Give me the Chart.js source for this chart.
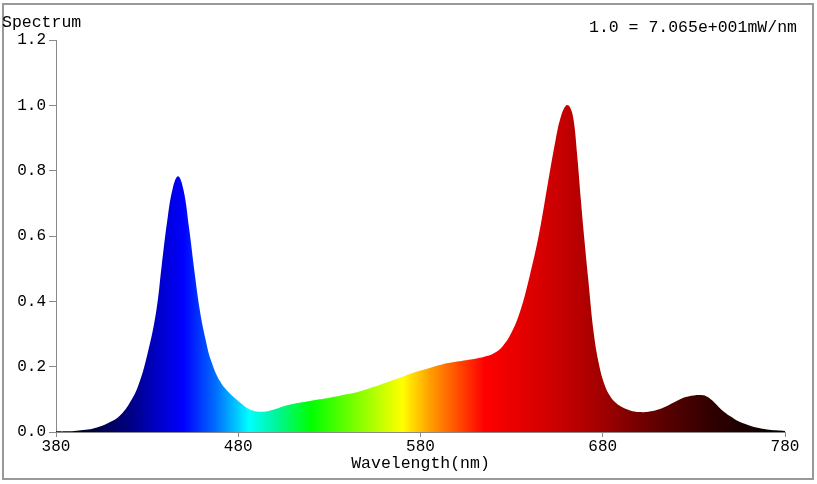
<!DOCTYPE html>
<html>
<head>
<meta charset="utf-8">
<script src="https://cdn.jsdelivr.net/npm/chart.js@4/dist/chart.umd.min.js"></script>
<style>
  html, body { margin: 0; padding: 0; background: #fff; }
  #wrap { width: 817px; height: 484px; position: relative; }
</style>
</head>
<body>
<div id="wrap"><canvas id="c" width="817" height="484"></canvas></div>
<script>
// ---- Data ----
const wavelengths = [380,385,390,395,400,405,410,415,420,425,430,435,438,441,444,447,450,453,456,459,462,465,470,475,480,485,490,495,500,505,510,515,520,525,530,535,540,545,550,555,560,565,570,575,580,585,590,595,600,605,610,615,620,625,630,635,640,645,650,654,657,660,662,664,666,668,670,672,675,678,681,684,687,690,695,700,705,710,715,720,725,730,734,737,740,745,750,755,760,765,770,775,780];
const intensity = [0.002,0.002,0.003,0.006,0.010,0.018,0.031,0.050,0.085,0.140,0.235,0.370,0.510,0.645,0.745,0.783,0.740,0.625,0.490,0.370,0.285,0.220,0.155,0.120,0.095,0.073,0.063,0.063,0.070,0.079,0.086,0.091,0.096,0.100,0.105,0.110,0.116,0.122,0.130,0.139,0.149,0.159,0.169,0.179,0.188,0.196,0.204,0.211,0.216,0.220,0.224,0.230,0.240,0.262,0.305,0.375,0.480,0.605,0.765,0.890,0.965,1.000,0.995,0.955,0.845,0.710,0.585,0.470,0.305,0.205,0.145,0.110,0.090,0.078,0.066,0.061,0.062,0.068,0.079,0.093,0.106,0.112,0.113,0.109,0.097,0.069,0.048,0.031,0.021,0.013,0.008,0.005,0.003];
const xTicks = [380,480,580,680,780];
const yTicks = [0,0.2,0.4,0.6,0.8,1.0,1.2];
const titleText = "Spectrum";
const scaleNote = "1.0 = 7.065e+001mW/nm";
const xTitle = "Wavelength(nm)";

// ---- Style ----
const FONT = '"Liberation Mono", "DejaVu Sans Mono", monospace';
const AXIS_GRAY = '#8a8a8a';
const spectrumStops = [
  [380,'#000010'],[400,'#000040'],[420,'#000080'],[436,'#0000c8'],[450,'#0000ff'],
  [468,'#0070ff'],[486,'#00ffff'],[500,'#00f5a0'],[520,'#00ff00'],[545,'#80ff00'],
  [570,'#ffff00'],[585,'#ffa000'],[600,'#ff5000'],[615,'#ff0000'],[650,'#d20000'],
  [680,'#a00000'],[710,'#600000'],[740,'#300000'],[780,'#000000']
];

const points = wavelengths.map((w, i) => ({x: w, y: intensity[i]}));

const decor = {
  id: 'decor',
  beforeDraw(chart) {
    const c = chart.ctx;
    c.save();
    c.fillStyle = '#fff';
    c.fillRect(0, 0, chart.width, chart.height);
    c.restore();
  },
  afterDraw(chart) {
    const c = chart.ctx;
    c.save();
    c.strokeStyle = '#999';
    c.lineWidth = 2;
    c.strokeRect(3, 4, 810, 475);
    c.fillStyle = '#000';
    c.font = '16.5px ' + FONT;
    c.textBaseline = 'alphabetic';
    c.textAlign = 'left';
    c.fillText(titleText, 2, 27);
    c.fillText(scaleNote, 589, 32);
    c.restore();
  }
};

new Chart(document.getElementById('c'), {
  type: 'line',
  data: {
    datasets: [{
      data: points,
      fill: 'origin',
      borderWidth: 0,
      pointRadius: 0,
      tension: 0.4,
      backgroundColor(ctx) {
        const chart = ctx.chart;
        const {chartArea, scales} = chart;
        if (!chartArea) return '#0000ff';
        const x0 = scales.x.getPixelForValue(380), x1 = scales.x.getPixelForValue(780);
        const g = chart.ctx.createLinearGradient(x0, 0, x1, 0);
        spectrumStops.forEach(([w, col]) => g.addColorStop((w - 380) / 400, col));
        return g;
      }
    }]
  },
  options: {
    responsive: false,
    animation: false,
    events: [],
    layout: { padding: { top: 40, right: 32, left: 0, bottom: 0 } },
    plugins: { legend: { display: false }, tooltip: { enabled: false }, title: { display: false } },
    scales: {
      x: {
        type: 'linear', min: 380, max: 780,
        afterBuildTicks(s) { s.ticks = xTicks.map(v => ({value: v})); },
        afterFit(s) { s.height = 52; },
        grid: { drawOnChartArea: false, drawTicks: true, tickLength: 5, color: AXIS_GRAY },
        border: { display: true, color: AXIS_GRAY, width: 1 },
        ticks: { color: '#000', font: { family: FONT, size: 16 }, padding: 0, maxRotation: 0, autoSkip: false },
        title: { display: true, text: xTitle, color: '#000', font: { family: FONT, size: 16.5 }, padding: { top: 0, bottom: 10 } }
      },
      y: {
        min: 0, max: 1.2,
        afterBuildTicks(s) { s.ticks = yTicks.map(v => ({value: v})); },
        afterFit(s) { s.width = 56; },
        grid: { drawOnChartArea: false, drawTicks: true, tickLength: 7, color: AXIS_GRAY },
        border: { display: true, color: AXIS_GRAY, width: 1 },
        ticks: { color: '#000', font: { family: FONT, size: 16 }, padding: 3, callback: v => Number(v).toFixed(1) }
      }
    }
  },
  plugins: [decor]
});
</script>
</body>
</html>
